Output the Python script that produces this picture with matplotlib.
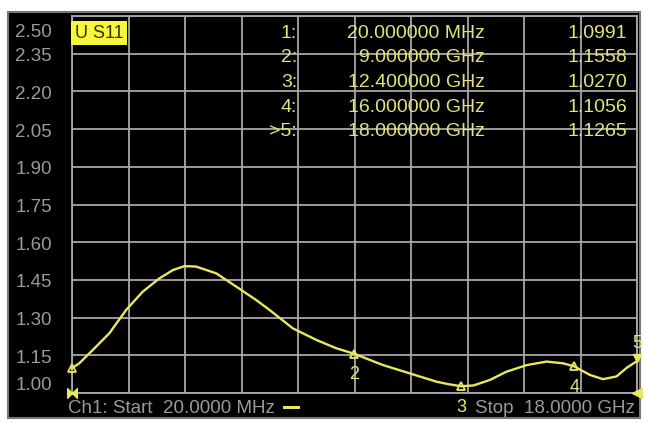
import numpy as np
import matplotlib.pyplot as plt
from matplotlib.patches import Rectangle
from matplotlib.path import Path

plt.rcParams['font.family'] = ['Liberation Sans', 'DejaVu Sans']

# trace (GHz, SWR)
freq = [0.02, 0.25, 0.68, 1.21, 1.74, 2.27, 2.80, 3.23, 3.60, 3.97, 4.61, 5.25,
        5.88, 6.31, 7.05, 7.80, 8.43, 9.00, 9.92, 10.77, 11.62, 12.00, 12.40,
        12.80, 13.32, 13.85, 14.49, 15.12, 15.65, 16.00, 16.50, 16.92, 17.35,
        17.67, 18.00]
swr = [1.099, 1.118, 1.171, 1.238, 1.330, 1.403, 1.456, 1.489, 1.505, 1.503,
       1.476, 1.423, 1.370, 1.330, 1.257, 1.211, 1.178, 1.156, 1.111, 1.078,
       1.045, 1.035, 1.027, 1.030, 1.052, 1.085, 1.111, 1.125, 1.118, 1.106,
       1.072, 1.055, 1.066, 1.100, 1.127]

# marker table
mk_names = ['1:', '2:', '3:', '4:', '>5:']
mk_freq = [0.02, 9.0, 12.4, 16.0, 18.0]
mk_freq_txt = ['20.000000 MHz', '9.000000 GHz', '12.400000 GHz',
               '16.000000 GHz', '18.000000 GHz']
mk_val = [1.0991, 1.1558, 1.0270, 1.1056, 1.1265]

yticks = [1.00, 1.15, 1.30, 1.45, 1.60, 1.75, 1.90, 2.05, 2.20, 2.35, 2.50]

W, H = 645, 423
yellow = '#e8e860'
txt_yel = '#e2e27e'
gray = '#a8a8a8'

fig = plt.figure(figsize=(W / 100, H / 100), dpi=100, facecolor='white')
fig.patches.append(Rectangle((8 / W, 1 - 418 / H), 632 / W, 406 / H,
                             transform=fig.transFigure, facecolor='black',
                             edgecolor='#777777', lw=1.5, zorder=-5))

ax = fig.add_axes([72 / W, 1 - 393 / H, 565 / W, 377 / H])
ax.set_facecolor('black')
ax.set_xlim(0.02, 18)
ax.set_ylim(1.0, 2.5)
ax.set_xticks(np.linspace(0.02, 18, 11))
ax.set_yticks(yticks)
ax.tick_params(length=0, labelleft=False, labelbottom=False)
ax.grid(True, color=gray, lw=1.3)
ax.set_axisbelow(True)
for s in ax.spines.values():
    s.set_color(gray)
    s.set_linewidth(1.3)

ax.plot(freq, swr, color=yellow, lw=1.7, clip_on=False, zorder=3)

# y labels
for v in yticks:
    dy = -3
    if v == 2.50:
        dy = -17
    elif v == 1.00:
        dy = 8
    ax.annotate(f'{v:.2f}', xy=(0, v), xycoords=('axes fraction', 'data'),
                xytext=(-20, dy), textcoords='offset pixels', ha='right',
                va='center', color='#9a9a9a', fontsize=13.5)

# markers on the trace
for i, (f, v) in enumerate(zip(mk_freq, mk_val)):
    n = str(i + 1)
    if i == 4:
        ax.plot(f, v + 0.012, marker='v', ms=6, color=yellow, clip_on=False, zorder=4)
        ax.annotate(n, xy=(f, v), xytext=(0, 18), textcoords='offset pixels',
                    ha='center', va='center', color=txt_yel, fontsize=13,
                    annotation_clip=False)
    else:
        ax.plot(f, v, marker='^', ms=6, mfc='none', mec=yellow, mew=1.3,
                clip_on=False, zorder=4)
        if i > 0:
            ax.annotate(n, xy=(f, v), xytext=(0, -21), textcoords='offset pixels',
                        ha='center', va='center', color=txt_yel, fontsize=13,
                        annotation_clip=False)

# reference position symbols
bow = Path([(-1, -1), (1, 1), (1, -1), (-1, 1), (-1, -1)])
ax.plot(0.02, 1.0, marker=bow, ms=7, color=yellow, clip_on=False, zorder=4)
ax.plot(18.0, 1.0, marker='<', ms=7, color=yellow, clip_on=False, zorder=4)

# trace label
fig.text(75 / W, 1 - 33 / H, 'U S11', fontsize=13, color='#3a3000',
         va='center', ha='left',
         bbox=dict(boxstyle='square,pad=0.2', fc='#f8f83a', ec='none'))

# marker table
rows_y = [33, 58, 82, 107, 132]
for name, ft, v, y in zip(mk_names, mk_freq_txt, mk_val, rows_y):
    fig.text(297 / W, 1 - y / H, name, ha='right', va='center', color=txt_yel, fontsize=14)
    fig.text(485 / W, 1 - y / H, ft, ha='right', va='center', color=txt_yel, fontsize=14)
    fig.text(627 / W, 1 - y / H, f'{v:.4f}', ha='right', va='center', color=txt_yel, fontsize=14)

# channel footer
fig.text(68 / W, 1 - 408 / H, 'Ch1: Start  20.0000 MHz', ha='left', va='center',
         color='#9a9a9a', fontsize=13.5)
fig.patches.append(Rectangle((283 / W, 1 - 409 / H), 17 / W, 3 / H,
                             transform=fig.transFigure, facecolor=yellow))
fig.text(635 / W, 1 - 408 / H, 'Stop  18.0000 GHz', ha='right', va='center',
         color='#9a9a9a', fontsize=13.5)

fig.savefig('out.png', dpi=100, facecolor='white')
